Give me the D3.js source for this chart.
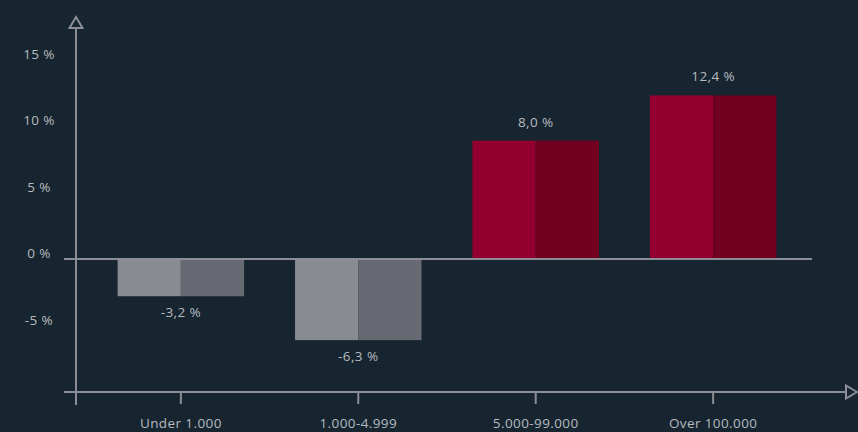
<!DOCTYPE html>
<html><head><meta charset="utf-8">
<script src="https://cdn.jsdelivr.net/npm/d3@7/dist/d3.min.js"></script>
<style>
html,body{margin:0;padding:0;background:#162530;}
svg{display:block;}
text{font-family:"Open Sans",Roboto,sans-serif;font-weight:400;fill:#b7babf;font-size:13.5px;letter-spacing:0.4px;}
</style></head><body>
<svg id="c" width="858" height="432"></svg>
<script>
const categories = ["Under 1.000", "1.000-4.999", "5.000-99.000", "Over 100.000"];
const values = [-2.8, -6.1, 8.9, 12.3];
const valueLabels = ["-3,2 %", "-6,3 %", "8,0 %", "12,4 %"];
const yTicks = [-5, 0, 5, 10, 15];
const yTickLabels = ["-5 %", "0 %", "5 %", "10 %", "15 %"];

const svg = d3.select("#c");
const axisColor = "#8b8e94";
const lightColors = v => v < 0 ? "#898b92" : "#930030";
const darkColors = v => v < 0 ? "#676a72" : "#720020";

const y = d3.scaleLinear().domain([-10, 15]).range([392, 59.5]);
const x = d3.scaleBand().domain(categories).range([91, 803]).paddingInner(0.287).paddingOuter(0.15);
const cx = d => x(d) + x.bandwidth() / 2;

// bars
const g = svg.append("g");
categories.forEach((c, i) => {
  const v = values[i];
  const top = Math.min(y(v), y(0)), h = Math.abs(y(v) - y(0));
  g.append("rect").attr("x", x(c)).attr("y", top).attr("width", x.bandwidth() / 2).attr("height", h).attr("fill", lightColors(v));
  g.append("rect").attr("x", cx(c)).attr("y", top).attr("width", x.bandwidth() / 2).attr("height", h).attr("fill", darkColors(v));
  g.append("text").attr("x", cx(c)).attr("y", v < 0 ? y(v) + 16 : y(v) - 19)
    .attr("text-anchor", "middle").attr("dominant-baseline", "central").text(valueLabels[i]);
});

// zero line
svg.append("line").attr("x1", 64).attr("x2", 812).attr("y1", y(0)).attr("y2", y(0))
  .attr("stroke", axisColor).attr("stroke-width", 2);

// y axis
svg.append("line").attr("x1", 76).attr("x2", 76).attr("y1", 28).attr("y2", 405)
  .attr("stroke", axisColor).attr("stroke-width", 2);
svg.append("path").attr("d", "M76,17 L82.5,28 L69.5,28 Z").attr("fill", "#162530")
  .attr("stroke", axisColor).attr("stroke-width", 2).attr("stroke-linejoin", "miter");
yTicks.forEach((t, i) => {
  svg.append("text").attr("x", 39).attr("y", y(t) - 6).attr("text-anchor", "middle")
    .attr("dominant-baseline", "central").text(yTickLabels[i]);
});

// x axis
svg.append("line").attr("x1", 64).attr("x2", 846).attr("y1", y(-10)).attr("y2", y(-10))
  .attr("stroke", axisColor).attr("stroke-width", 2);
svg.append("path").attr("d", `M857,${y(-10)} L846,${y(-10) - 6.5} L846,${y(-10) + 6.5} Z`).attr("fill", "#162530")
  .attr("stroke", axisColor).attr("stroke-width", 2);
categories.forEach(c => {
  svg.append("line").attr("x1", cx(c)).attr("x2", cx(c)).attr("y1", y(-10)).attr("y2", y(-10) + 12)
    .attr("stroke", axisColor).attr("stroke-width", 2);
  svg.append("text").attr("x", cx(c)).attr("y", 423).attr("text-anchor", "middle")
    .attr("dominant-baseline", "central").text(c);
});
</script></body></html>
